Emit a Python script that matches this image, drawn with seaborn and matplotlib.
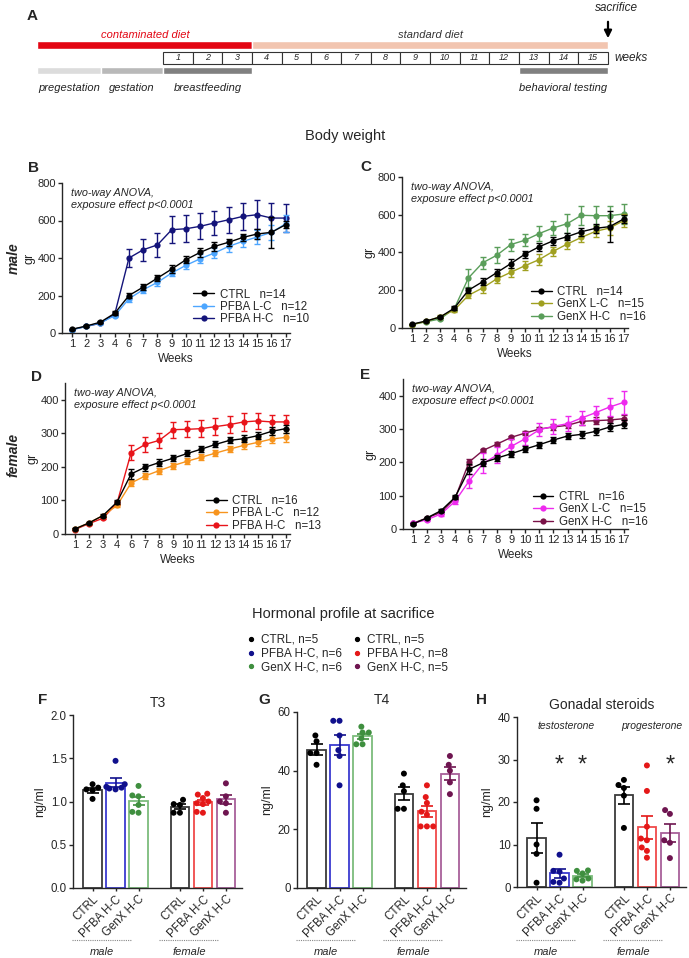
import numpy as np
import pandas as pd
import seaborn as sns
import matplotlib.pyplot as plt
from matplotlib.lines import Line2D

sns.set_style('ticks')
plt.rcParams['font.family'] = ['Liberation Sans', 'DejaVu Sans']
plt.rcParams['axes.linewidth'] = 1.0

# ---- panel A: experimental timeline (in week units) ----
diet_labels = ['contaminated diet', 'standard diet']
diet_start = [-4.25, 3]
diet_end = [3, 15]
phase_labels = ['pregestation', 'gestation', 'breastfeeding', 'behavioral testing']
phase_start = [-4.25, -2.1, 0, 12]
phase_end = [-2.1, 0, 3, 15]
n_box_weeks = 15

# ---- body weight (mean, sem) ----
weeks = [1, 2, 3, 4, 6, 7, 8, 9, 10, 11, 12, 13, 14, 15, 16, 17]

ctrl_m = [20, 37, 58, 105, 200, 245, 293, 341, 391, 430, 462, 484, 510, 528, 537, 578]
ctrl_m_err = [3, 4, 6, 10, 12, 18, 18, 22, 18, 22, 22, 18, 20, 25, 82, 20]
pfba_lc_m = [18, 35, 55, 92, 183, 231, 270, 320, 361, 396, 427, 462, 489, 512, 537, 583]
pfba_lc_m_err = [3, 4, 5, 8, 15, 18, 18, 18, 20, 25, 25, 30, 32, 35, 40, 45]
pfba_hc_m = [18, 35, 52, 100, 400, 444, 470, 551, 556, 569, 587, 604, 622, 631, 613, 613]
pfba_hc_m_err = [3, 4, 5, 10, 49, 60, 62, 72, 72, 70, 64, 70, 73, 76, 78, 74]
genx_lc_m = [18, 35, 60, 95, 173, 212, 260, 295, 330, 362, 406, 445, 480, 512, 530, 569]
genx_lc_m_err = [3, 4, 8, 10, 15, 25, 22, 25, 25, 28, 25, 25, 25, 30, 35, 35]
genx_hc_m = [18, 33, 48, 102, 265, 345, 385, 442, 465, 500, 530, 553, 597, 595, 595, 604]
genx_hc_m_err = [3, 4, 8, 10, 50, 30, 42, 32, 32, 38, 35, 50, 52, 50, 50, 55]

ctrl_f = [15, 33, 55, 95, 179, 199, 213, 226, 240, 253, 267, 279, 284, 293, 306, 314]
ctrl_f_err = [2, 3, 4, 6, 15, 10, 10, 9, 9, 9, 9, 9, 10, 10, 12, 12]
pfba_lc_f = [15, 33, 55, 85, 152, 173, 189, 204, 217, 229, 241, 253, 264, 273, 283, 288]
pfba_lc_f_err = [2, 3, 3, 5, 10, 9, 9, 9, 9, 9, 10, 10, 12, 12, 12, 14]
pfba_hc_f = [13, 31, 47, 92, 242, 267, 279, 311, 312, 314, 320, 326, 334, 337, 334, 334]
pfba_hc_f_err = [2, 3, 3, 5, 22, 22, 22, 24, 24, 25, 25, 25, 28, 25, 22, 22]
genx_lc_f = [17, 28, 45, 83, 144, 197, 222, 248, 271, 298, 308, 316, 333, 349, 366, 380]
genx_lc_f_err = [2, 3, 5, 8, 20, 30, 25, 22, 20, 20, 22, 22, 22, 20, 28, 35]
genx_hc_f = [17, 33, 50, 92, 201, 236, 255, 275, 288, 300, 306, 311, 323, 325, 327, 331]
genx_hc_f_err = [2, 3, 4, 6, 8, 5, 5, 5, 5, 5, 8, 8, 10, 10, 10, 12]

# ---- hormones: individual animals ----
bar_groups = ['CTRL m', 'PFBA m', 'GenX m', 'CTRL f', 'PFBA f', 'GenX f']
bar_labels = ['CTRL', 'PFBA H-C', 'GenX H-C', 'CTRL', 'PFBA H-C', 'GenX H-C']
bar_pos = [0, 1, 2, 3.8, 4.8, 5.8]
t3_points = [[1.16, 1.13, 1.03, 1.14, 1.20],
             [1.47, 1.20, 1.15, 1.14, 1.16, 1.17],
             [1.18, 1.07, 1.06, 0.96, 0.87, 0.88],
             [1.02, 0.97, 0.96, 0.87, 0.87],
             [1.09, 1.08, 1.04, 1.00, 0.98, 0.97, 0.87, 0.88],
             [1.21, 1.06, 1.00, 0.98, 0.87]]
t4_points = [[52, 50, 46, 46, 42],
             [57, 57, 52, 47, 45, 35],
             [55, 53, 53, 51, 49, 49],
             [39, 35, 33, 27, 27],
             [35, 31, 29, 26, 25, 21, 21, 21],
             [45, 42, 40, 36, 32]]
steroid_points = [[20.4, 18.4, 10.0, 7.8, 1.0],
                  [7.6, 3.8, 3.6, 2.0, 1.2, 1.0],
                  [3.9, 3.8, 3.2, 2.0, 1.8, 1.5],
                  [25.2, 24.0, 23.3, 21.5, 13.9],
                  [28.6, 22.6, 14.2, 11.4, 11.0, 9.3, 8.5, 6.9],
                  [18.1, 17.2, 11.0, 10.4, 6.8]]
signif_pos = [1, 2, 5.8]

edge_colors = ['#3a3a3a', '#3a3ad0', '#7cbc7c', '#3a3a3a', '#f04a4a', '#a8609a']
dot_colors = ['#000000', '#10108c', '#3f8f3f', '#000000', '#e41818', '#6e1550']

W, H = 689, 958
fig = plt.figure(figsize=(W / 100, H / 100), dpi=100)


def px_axes(left, top, right, bottom):
    return fig.add_axes([left / W, 1 - bottom / H, (right - left) / W, (bottom - top) / H])


def px_text(x, y, s, **kw):
    fig.text(x / W, 1 - y / H, s, **kw)


narrow = ['Liberation Sans Narrow', 'Liberation Sans', 'DejaVu Sans']

# Panel A
ax = px_axes(0, 0, W, 100)
ax.set_xlim(-163 / 29.667, (W - 163) / 29.667)
ax.set_ylim(100, 0)
ax.axis('off')
ax.barh([45, 45], np.subtract(diet_end, diet_start), left=diet_start, height=8,
        color=['#e30613', '#f2c5b0'])
ax.barh([58] * n_box_weeks, [1] * n_box_weeks, left=np.arange(n_box_weeks), height=12,
        color='white', edgecolor='#333333', linewidth=0.8)
for k in range(n_box_weeks):
    ax.text(k + 0.5, 58, str(k + 1), ha='center', va='center', fontsize=6.5,
            style='italic', family=narrow)
ax.barh([70.5] * 4, np.subtract(phase_end, phase_start), left=phase_start, height=7,
        color=['#dcdcdc', '#b9b9b9', '#808080', '#808080'])
ax.text(-0.6, 35, diet_labels[0], color='#e30613', ha='center', va='center',
        fontsize=8, style='italic', family=narrow)
ax.text(9, 35, diet_labels[1], color='#333333', ha='center', va='center',
        fontsize=8, style='italic', family=narrow)
for lab, s, e in zip(phase_labels, phase_start, phase_end):
    ax.text((s + e) / 2, 88, lab, ha='center', va='center', fontsize=8,
            style='italic', family=narrow, color='#222222')
ax.text(15.2, 58, 'weeks', ha='left', va='center', fontsize=8.5, style='italic', family=narrow)
ax.text(15.3, 8, 'sacrifice', ha='center', va='center', fontsize=8.5, style='italic', family=narrow)
ax.annotate('', xy=(15, 41), xytext=(15, 19),
            arrowprops=dict(arrowstyle='-|>', color='black', lw=1.6, mutation_scale=11))
px_text(27, 16, 'A', fontsize=11, fontweight='bold', va='center')

# Body weight panels
px_text(345, 136, 'Body weight', fontsize=10.5, ha='center', va='center')
px_text(14, 258, 'male', fontsize=10, fontweight='bold', style='italic',
        rotation=90, ha='center', va='center')
px_text(14, 455, 'female', fontsize=10, fontweight='bold', style='italic',
        rotation=90, ha='center', va='center')


def weight_panel(box, series, ymax, yticks, leg_anchor, letter, letter_xy):
    ax = px_axes(*box)
    x = np.arange(len(weeks))
    for name, n, mean, err, color in series:
        ax.errorbar(x, mean, yerr=err, fmt='none', ecolor=color, elinewidth=1,
                    capsize=2.5, capthick=1)
        sns.lineplot(x=x, y=mean, ax=ax, color=color, marker='o', markersize=4.5,
                     markeredgewidth=0, linewidth=1, errorbar=None,
                     label=f'{name}   n={n}')
    h, l = ax.get_legend_handles_labels()
    ax.legend(h[::-1], l[::-1], loc='upper left', bbox_to_anchor=leg_anchor,
              frameon=False, fontsize=8.3, handlelength=1.8, handletextpad=0.5,
              labelspacing=0.02, borderpad=0)
    ax.set_xlim(-0.7, 15.3)
    ax.set_ylim(0, ymax)
    ax.set_yticks(yticks)
    ax.set_xticks(x)
    ax.set_xticklabels([str(w) for w in weeks])
    ax.tick_params(length=3, width=1, labelsize=8, pad=1.5)
    ax.set_xlabel('Weeks', fontsize=8.5, labelpad=3)
    ax.set_ylabel('gr', fontsize=9, labelpad=1)
    ax.text(0.04, 0.97, 'two-way ANOVA,\nexposure effect p<0.0001', transform=ax.transAxes,
            fontsize=7.8, style='italic', va='top', ha='left', linespacing=1.3)
    sns.despine(ax=ax)
    px_text(letter_xy[0], letter_xy[1], letter, fontsize=11, fontweight='bold', va='center')


weight_panel((62, 183, 290, 333),
             [('PFBA H-C', 10, pfba_hc_m, pfba_hc_m_err, '#14147a'),
              ('PFBA L-C', 12, pfba_lc_m, pfba_lc_m_err, '#4da6ff'),
              ('CTRL', 14, ctrl_m, ctrl_m_err, '#000000')],
             800, [0, 200, 400, 600, 800], (0.55, 0.335), 'B', (28, 168))
weight_panel((402, 177, 628, 328),
             [('GenX H-C', 16, genx_hc_m, genx_hc_m_err, '#5a9e5a'),
              ('GenX L-C', 15, genx_lc_m, genx_lc_m_err, '#a0a020'),
              ('CTRL', 14, ctrl_m, ctrl_m_err, '#000000')],
             800, [0, 200, 400, 600, 800], (0.545, 0.315), 'C', (360, 167))
weight_panel((65, 383, 290, 534),
             [('PFBA H-C', 13, pfba_hc_f, pfba_hc_f_err, '#e8141a'),
              ('PFBA L-C', 12, pfba_lc_f, pfba_lc_f_err, '#f7941d'),
              ('CTRL', 16, ctrl_f, ctrl_f_err, '#000000')],
             450, [0, 100, 200, 300, 400], (0.6, 0.295), 'D', (31, 377))
weight_panel((403, 379, 628, 529),
             [('GenX H-C', 16, genx_hc_f, genx_hc_f_err, '#7a1248'),
              ('GenX L-C', 15, genx_lc_f, genx_lc_f_err, '#ee2aee'),
              ('CTRL', 16, ctrl_f, ctrl_f_err, '#000000')],
             450, [0, 100, 200, 300, 400], (0.55, 0.29), 'E', (360, 375))

# Hormonal profile
px_text(343, 614, 'Hormonal profile at sacrifice', fontsize=10.5, ha='center', va='center')
leg_labels = ['CTRL, n=5', 'PFBA H-C, n=6', 'GenX H-C, n=6',
              'CTRL, n=5', 'PFBA H-C, n=8', 'GenX H-C, n=5']
leg_handles = [Line2D([], [], marker='o', ls='none', color=c, markersize=2.8)
               for c in dot_colors]
fig.legend(leg_handles, leg_labels, ncol=2, loc='upper left',
           bbox_to_anchor=(242 / W, 1 - 628 / H), frameon=False, fontsize=8.5,
           handlelength=0.6, handletextpad=0.5, columnspacing=1.0,
           labelspacing=0.15, borderpad=0)


def hormone_panel(box, points, ymax, yticks, ylabels, title, letter, letter_xy):
    ax = px_axes(*box)
    rows = []
    for g, p, pts in zip(bar_groups, bar_pos, points):
        for v in pts:
            rows.append({'grp': g, 'pos': p, 'val': v})
    df = pd.DataFrame(rows)
    sns.barplot(data=df, x='pos', y='val', hue='grp', hue_order=bar_groups,
                palette=edge_colors, native_scale=True, fill=False, errorbar=None,
                linewidth=1.3, width=0.8, dodge=False, legend=False, ax=ax)
    sns.swarmplot(data=df, x='pos', y='val', hue='grp', hue_order=bar_groups,
                  palette=dot_colors, native_scale=True, size=4.3, dodge=False,
                  legend=False, ax=ax)
    stats = df.groupby('pos')['val'].agg(['mean', 'sem'])
    for p, c in zip(bar_pos, dot_colors):
        ax.errorbar(p, stats.loc[p, 'mean'], yerr=stats.loc[p, 'sem'], fmt='none',
                    ecolor=c, elinewidth=1.2, capsize=4, capthick=1.2)
    ax.set_xlim(-0.85, 6.5)
    ax.set_ylim(0, ymax)
    ax.set_yticks(yticks)
    ax.set_yticklabels(ylabels)
    ax.set_xticks(bar_pos)
    ax.set_xticklabels(bar_labels, rotation=45, ha='right', rotation_mode='anchor')
    ax.tick_params(length=3, width=1, labelsize=8.3, pad=1.5)
    ax.tick_params(axis='x', length=2.5)
    ax.set_xlabel('')
    ax.set_ylabel('ng/ml', fontsize=9, labelpad=3)
    ax.set_title(title, fontsize=10, pad=6)
    sns.despine(ax=ax)
    # group underline + sex labels
    bottom, height = box[3], box[3] - box[1]
    y_line = -(940 - bottom) / height
    y_txt = -(952 - bottom) / height
    tr = ax.get_xaxis_transform()
    for (s, e), lab in zip([(-0.9, 1.7), (2.9, 5.5)], ['male', 'female']):
        ax.plot([s, e], [y_line, y_line], transform=tr, clip_on=False, ls=(0, (1, 1)),
                color='#888888', lw=0.8)
        ax.text((s + e) / 2, y_txt, lab, transform=tr, ha='center', va='center',
                fontsize=8, style='italic')
    px_text(letter_xy[0], letter_xy[1], letter, fontsize=11, fontweight='bold', va='center')
    return ax


hormone_panel((73, 715, 242, 888), t3_points, 2.0, [0, 0.5, 1.0, 1.5, 2.0],
              ['0.0', '0.5', '1.0', '1.5', '2.0'], 'T3', 'F', (38, 700))
hormone_panel((297, 712, 466, 888), t4_points, 60, [0, 20, 40, 60],
              ['0', '20', '40', '60'], 'T4', 'G', (258, 700))
axh = hormone_panel((517, 717, 686, 887), steroid_points, 40, [0, 10, 20, 30, 40],
                    ['0', '10', '20', '30', '40'], 'Gonadal steroids', 'H', (476, 700))
axh.text(1.3, 37.8, 'testosterone', ha='center', va='center', fontsize=7.5, style='italic')
axh.text(5.0, 37.8, 'progesterone', ha='center', va='center', fontsize=7.5, style='italic')
for p in signif_pos:
    axh.text(p, 28.5, '*', ha='center', va='center', fontsize=17)

fig.savefig('out.png', dpi=100)
